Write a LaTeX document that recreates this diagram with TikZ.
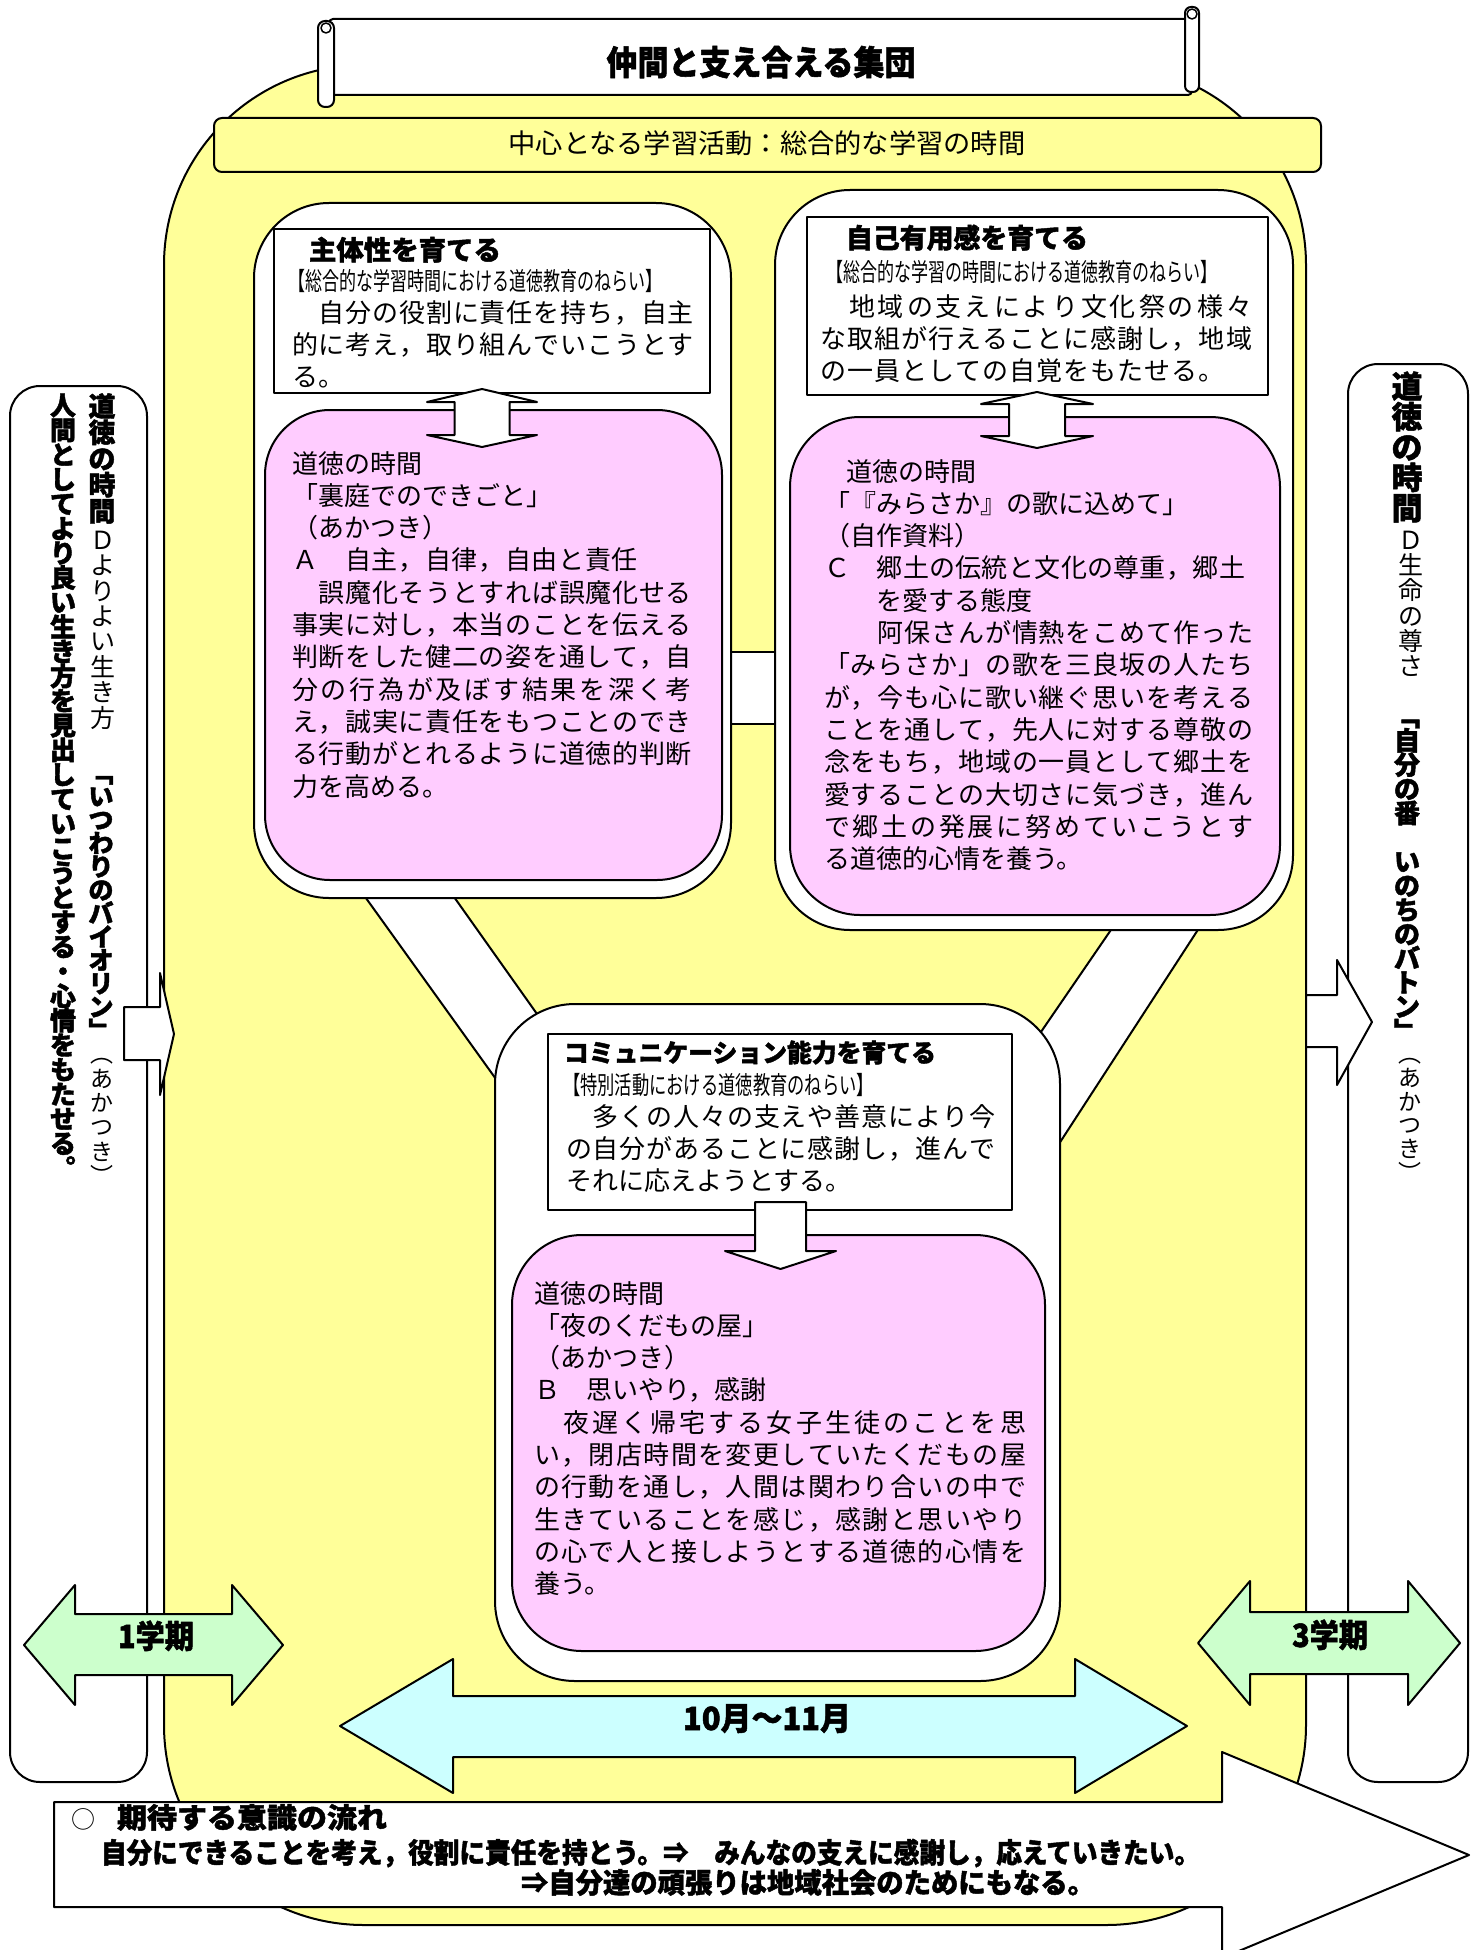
\documentclass[tikz,border=0pt]{standalone}
\usepackage{fontspec}
\setmainfont{Noto Sans CJK JP}[BoldFeatures={FakeBold=1.6}]
\usepackage{graphicx}
\definecolor{yel}{HTML}{FFFF99}
\definecolor{pnk}{HTML}{FFCCFF}
\definecolor{grn}{HTML}{CCFFCC}
\definecolor{cyn}{HTML}{CCFFFF}
\newlength\vpitch
\newcommand\vcell[1]{\vbox to\vpitch{\vss\hbox to 1.2em{\hss\smash{#1}\hss}\kern\dimexpr0.5\vpitch-0.38em\relax}}
\let\vend\relax
\def\vsegA#1{\ifx#1\vend\else\vcell{#1}\expandafter\vsegA\fi}
\newcommand\vseg[3]{\vbox{\offinterlineskip#1\setlength\vpitch{#2}\vsegA#3\vend}}
\def\jsA#1{#1\jsB}
\def\jsB#1{\ifx#1\vend\else\hskip0pt plus 1fil\relax#1\expandafter\jsB\fi}
\newcommand\jl[2]{\hbox to #1pt{\jsA#2\vend}}
\newcommand\fitw[2]{\resizebox{#1pt}{\height}{#2}}
\tikzset{
  ln/.style={draw=black, line width=2pt},
  txt/.style={inner sep=0pt, outer sep=0pt, anchor=base west},
  body/.style={inner sep=0pt, outer sep=0pt, anchor=north west, align=left, font=\fontsize{26}{32.3}\selectfont},
  vtx/.style={inner sep=0pt, outer sep=0pt, anchor=north},
}
\begin{document}
\begin{tikzpicture}[x=1pt,y=-1pt,line join=round]
\useasboundingbox (0,0) rectangle (1480,1950);
\clip (0,0) rectangle (1480,1950);
\fill[white] (0,0) rectangle (1480,1950);

% main yellow area
\node[ln, fill=yel, rounded corners=200pt, minimum width=1142pt, minimum height=1860pt, inner sep=0pt] (main) at (735,995) {};

% side boxes
\node[ln, fill=white, rounded corners=30pt, minimum width=137pt, minimum height=1396pt, inner sep=0pt] (lbox) at (78.5,1084) {};
\node[ln, fill=white, rounded corners=30pt, minimum width=120pt, minimum height=1418pt, inner sep=0pt] (rbox) at (1408,1073) {};

% banner
\draw[ln, fill=white, rounded corners=4pt] (329,19) rectangle (1192,95);
\draw[ln, fill=white, rounded corners=6pt] (1185,7) rectangle (1199,92);
\draw[ln, fill=white, rounded corners=7pt] (318,21) rectangle (334,107);
\draw[line width=1.5pt, fill=white] (326,28) circle (5pt);
\draw[line width=1.5pt, fill=white] (1192,14) circle (5pt);
\node[txt, anchor=base] (title) at (761,75) {\fitw{309}{\fontsize{34}{34}\selectfont\bfseries 仲間と支え合える集団}};

% center band
\node[ln, fill=yel, rounded corners=8pt, minimum width=1107pt, minimum height=54pt, inner sep=0pt] (band) at (767.5,145) {};
\node[txt, anchor=base] (bandtext) at (767,154) {\fitw{517}{\fontsize{27}{27}\selectfont 中心となる学習活動：総合的な学習の時間}};

% connecting bands
\draw[ln, fill=white] (353,880) -- (442,880) -- (598,1100) -- (511,1100) -- cycle;
\draw[ln, fill=white] (1128,905) -- (1214,905) -- (1055,1150) -- (960,1150) -- cycle;
\draw[ln, fill=white] (720,652) rectangle (786,724);

% white containers
\node[ln, fill=white, rounded corners=75pt, minimum width=477pt, minimum height=695pt, inner sep=0pt] (tlw) at (492.5,550.5) {};
\node[ln, fill=white, rounded corners=75pt, minimum width=518pt, minimum height=740pt, inner sep=0pt] (trw) at (1034,560) {};
\node[ln, fill=white, rounded corners=80pt, minimum width=565pt, minimum height=677pt, inner sep=0pt] (bw) at (777.5,1342.5) {};

% title rectangles
\node[ln, fill=white, minimum width=436pt, minimum height=164pt, inner sep=0pt] (tlt) at (492,311) {};
\node[ln, fill=white, minimum width=461pt, minimum height=178pt, inner sep=0pt] (trt) at (1037.5,306) {};
\node[ln, fill=white, minimum width=464pt, minimum height=176pt, inner sep=0pt] (bt) at (780,1122) {};

% pink boxes
\node[ln, fill=pnk, rounded corners=65pt, minimum width=457pt, minimum height=470pt, inner sep=0pt] (tlp) at (493.5,645) {};
\node[ln, fill=pnk, rounded corners=70pt, minimum width=490pt, minimum height=498pt, inner sep=0pt] (trp) at (1035,666) {};
\node[ln, fill=pnk, rounded corners=70pt, minimum width=533pt, minimum height=416pt, inner sep=0pt] (bp) at (778.5,1443) {};

% up-down arrows
\draw[ln, fill=white] (482,389) -- (537,402) -- (509.5,402) -- (509.5,435) -- (537,435) -- (482,447) -- (427,435) -- (454.5,435) -- (454.5,402) -- (427,402) -- cycle;
\draw[ln, fill=white] (1037,392) -- (1093,404) -- (1065,404) -- (1065,436) -- (1093,436) -- (1037,448) -- (981,436) -- (1009,436) -- (1009,404) -- (981,404) -- cycle;
% down arrow
\draw[ln, fill=white] (755,1202) -- (806,1202) -- (806,1251) -- (836,1251) -- (780.5,1269) -- (725,1251) -- (755,1251) -- cycle;

% side arrows
\draw[ln, fill=white] (124,1007) -- (160,1007) -- (160,973) -- (174,1034) -- (160,1095) -- (160,1060) -- (124,1060) -- cycle;
\draw[ln, fill=white] (1306,995) -- (1337,995) -- (1337,960) -- (1372,1022) -- (1337,1085) -- (1337,1047) -- (1306,1047) -- cycle;

% term arrows
\draw[ln, fill=grn] (24,1645) -- (75,1585) -- (75,1614) -- (232,1614) -- (232,1585) -- (283,1645) -- (232,1705) -- (232,1675) -- (75,1675) -- (75,1705) -- cycle;
\draw[ln, fill=grn] (1198,1643) -- (1250,1581) -- (1250,1612) -- (1408,1612) -- (1408,1581) -- (1460,1643) -- (1408,1705) -- (1408,1674) -- (1250,1674) -- (1250,1705) -- cycle;
\draw[ln, fill=cyn] (340,1726) -- (453,1659) -- (453,1696) -- (1075,1696) -- (1075,1659) -- (1187,1726) -- (1075,1793) -- (1075,1757) -- (453,1757) -- (453,1793) -- cycle;
\node[txt, anchor=base] (t1) at (156,1648) {\fitw{76}{\fontsize{32}{32}\selectfont\bfseries 1学期}};
\node[txt, anchor=base] (t3) at (1330,1647) {\fitw{76}{\fontsize{32}{32}\selectfont\bfseries 3学期}};
\node[txt, anchor=base] (t1011) at (767,1730) {\fitw{168}{\fontsize{32}{32}\selectfont\bfseries 10月～11月}};

% bottom flow arrow
\draw[ln, fill=white] (54,1802) -- (1222,1802) -- (1222,1752) -- (1469,1855) -- (1222,1958) -- (1222,1907) -- (54,1907) -- cycle;
\node[txt, anchor=base] (circ) at (83,1828) {\fontsize{24}{24}\selectfont ○};
\node[txt] (flow1) at (117,1828) {\fitw{270}{\fontsize{28}{28}\selectfont\bfseries 期待する意識の流れ}};
\node[txt] (flow2) at (101,1863) {\fitw{1099}{\fontsize{28}{28}\selectfont\bfseries 自分にできることを考え，役割に責任を持とう。⇒　みんなの支えに感謝し，応えていきたい。}};
\node[txt] (flow3) at (521,1893) {\fitw{574}{\fontsize{28}{28}\selectfont\bfseries ⇒自分達の頑張りは地域社会のためにもなる。}};

% top-left texts
\node[txt] (tlh) at (309,260) {\fitw{192}{\fontsize{27}{27}\selectfont\bfseries 主体性を育てる}};
\node[txt] (tls) at (288,290.5) {\fitw{374}{\fontsize{25}{25}\selectfont 【総合的な学習時間における道徳教育のねらい】}};
\node[body] (tlb) at (292,298) {\rule{0pt}{24pt}\jl{402}{　自分の役割に責任を持ち，自主}\\\jl{402}{的に考え，取り組んでいこうとす}\\る。};
\node[body] (tlpt) at (292,449) {\rule{0pt}{24pt}道徳の時間\\「裏庭でのできごと」\\（あかつき）\\\jl{346}{Ａ　自主，自律，自由と責任}\\\jl{400}{　誤魔化そうとすれば誤魔化せる}\\\jl{400}{事実に対し，本当のことを伝える}\\\jl{400}{判断をした健二の姿を通して，自}\\\jl{400}{分の行為が及ぼす結果を深く考}\\\jl{400}{え，誠実に責任をもつことのでき}\\\jl{400}{る行動がとれるように道徳的判断}\\力を高める。};

% top-right texts
\node[txt] (trh) at (846,248) {\fitw{242}{\fontsize{27}{27}\selectfont\bfseries 自己有用感を育てる}};
\node[txt] (trs) at (826,281.5) {\fitw{391}{\fontsize{25}{25}\selectfont 【総合的な学習の時間における道徳教育のねらい】}};
\node[body] (trb) at (820,292) {\rule{0pt}{24pt}\jl{432}{　地域の支えにより文化祭の様々}\\\jl{432}{な取組が行えることに感謝し，地域}\\\jl{405}{の一員としての自覚をもたせる。}};
\node[body] (trpt) at (824,457) {\rule{0pt}{24pt}\hspace*{22pt}道徳の時間\\「『みらさか』の歌に込めて」\\（自作資料）\\\jl{421}{Ｃ　郷土の伝統と文化の尊重，郷土}\\　　を愛する態度\\\jl{429}{　　阿保さんが情熱をこめて作った}\\\jl{429}{「みらさか」の歌を三良坂の人たち}\\\jl{429}{が，今も心に歌い継ぐ思いを考える}\\\jl{429}{ことを通して，先人に対する尊敬の}\\\jl{429}{念をもち，地域の一員として郷土を}\\\jl{429}{愛することの大切さに気づき，進ん}\\\jl{429}{で郷土の発展に努めていこうとす}\\る道徳的心情を養う。};

% bottom texts
\node[txt] (bh) at (564,1062) {\fitw{372}{\fontsize{25}{25}\selectfont\bfseries コミュニケーション能力を育てる}};
\node[txt] (bs) at (563,1094) {\fitw{311}{\fontsize{25}{25}\selectfont 【特別活動における道徳教育のねらい】}};
\node[body] (bb) at (566,1102) {\rule{0pt}{24pt}\jl{429}{　多くの人々の支えや善意により今}\\\jl{429}{の自分があることに感謝し，進んで}\\それに応えようとする。};
\node[body] (bpt) at (534,1279) {\rule{0pt}{24pt}道徳の時間\\「夜のくだもの屋」\\（あかつき）\\Ｂ　思いやり，感謝\\\jl{492}{　夜遅く帰宅する女子生徒のことを思}\\\jl{492}{い，閉店時間を変更していたくだもの屋}\\\jl{492}{の行動を通し，人間は関わり合いの中で}\\\jl{492}{生きていることを感じ，感謝と思いやり}\\\jl{492}{の心で人と接しようとする道徳的心情を}\\養う。};

% vertical texts, left box
\node[vtx] (lv1) at (102,393) {\vseg{\bfseries\fontsize{27}{27}\selectfont}{26.2pt}{道徳の時間}};
\node[vtx] (lv2) at (103,527) {\vseg{\fontsize{25}{25}\selectfont}{25.4pt}{Ｄよりよい生き方}};
\node[vtx] (lv3) at (101,761) {\vseg{\bfseries\fontsize{25}{25}\selectfont}{23.4pt}{﹁いつわりのバイオリン﹂}};
\node[vtx] (lv4) at (102,1042) {\vseg{\fontsize{23}{23}\selectfont}{24.3pt}{︵あかつき︶}};
\node[vtx] (lv5) at (63,393) {\vseg{\bfseries\fontsize{26}{26}\selectfont}{24.6pt}{人間としてより良い生き方を見出していこうとする・心情をもたせる︒}};

% vertical texts, right box
\node[vtx] (rv1) at (1407,371) {\vseg{\bfseries\fontsize{31}{31}\selectfont}{30.4pt}{道徳の時間}};
\node[vtx] (rv2) at (1411,527) {\vseg{\fontsize{25}{25}\selectfont}{25.3pt}{Ｄ生命の尊さ}};
\node[vtx] (rv3) at (1407,704) {\vseg{\bfseries\fontsize{26}{26}\selectfont}{24.2pt}{﹁自分の番　いのちのバトン﹂}};
\node[vtx] (rv4) at (1410,1042) {\vseg{\fontsize{23}{23}\selectfont}{23.7pt}{︵あかつき︶}};
\end{tikzpicture}
\end{document}
